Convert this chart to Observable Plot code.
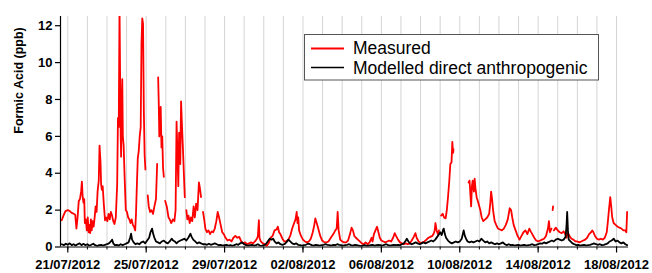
<!DOCTYPE html>
<html>
<head>
<meta charset="utf-8">
<script src="https://cdn.jsdelivr.net/npm/d3@7"></script>
<script src="https://cdn.jsdelivr.net/npm/@observablehq/plot@0.6"></script>
<style>
  html, body { margin: 0; padding: 0; background: #fff; }
  #chart { width: 652px; height: 273px; }
</style>
</head>
<body>
<div id="chart"></div>
<script>
// ---- Data (days since 21/07/2012 00:00 UTC, values in ppb; null = gap) ----
const measuredDays = [
  -0.31,-0.22,-0.12,0,0.1,0.2,0.3,0.38,0.44,0.5,0.56,0.62,0.68,0.72,0.76,0.8,0.84,0.87,0.92,0.97,
  1.02,1.06,1.1,1.14,1.18,1.22,1.27,1.32,1.37,1.42,1.47,1.52,1.58,1.62,1.67,1.7,1.74,1.78,1.84,1.9,
  1.96,2.02,2.08,2.14,2.2,2.26,2.32,2.38,2.45,2.52,2.56,2.6,2.64,2.67,2.7,2.72,2.75,2.78,2.81,2.85,
  2.9,2.96,3.02,3.08,3.14,3.2,3.26,3.32,3.38,3.44,3.48,3.52,3.57,3.62,3.67,3.72,3.76,3.8,3.84,3.88,
  3.92,3.96,4.0,4.08,4.13,4.2,4.27,4.35,4.42,4.5,4.56,4.58,4.61,4.64,4.67,4.7,4.74,4.78,4.82,4.86,
  4.9,4.93,4.97,5.05,5.14,5.2,5.28,5.36,5.44,5.5,5.55,5.6,5.64,5.68,5.74,5.78,5.83,5.88,5.94,5.97,
  6.0,6.05,6.1,6.16,6.22,6.28,6.35,6.42,6.48,6.55,6.62,6.69,6.74,6.8,6.84,6.9,6.96,7.02,7.1,7.18,
  7.26,7.34,7.42,7.5,7.58,7.65,7.72,7.8,7.88,7.96,8.05,8.15,8.25,8.35,8.45,8.55,8.65,8.75,8.85,8.95,
  9.05,9.15,9.25,9.35,9.45,9.55,9.65,9.7,9.75,9.78,9.85,9.95,10.05,10.15,10.25,10.35,10.45,10.55,10.65,10.72,
  10.78,10.85,10.95,11.05,11.15,11.25,11.35,11.45,11.55,11.62,11.68,11.72,11.76,11.8,11.9,12.0,12.1,12.2,12.3,12.4,
  12.5,12.58,12.63,12.7,12.78,12.88,12.98,13.1,13.2,13.3,13.42,13.55,13.65,13.72,13.77,13.82,13.9,14.0,14.1,14.2,
  14.3,14.4,14.48,14.55,14.62,14.7,14.8,14.9,15.0,15.1,15.2,15.3,15.4,15.5,15.55,15.62,15.7,15.78,15.85,15.92,
  16.0,16.1,16.2,16.3,16.4,16.5,16.6,16.68,16.75,16.85,16.95,17.05,17.15,17.25,17.35,17.45,17.55,17.65,17.74,17.8,
  17.9,18.0,18.1,18.2,18.3,18.4,18.5,18.6,18.68,18.72,18.76,18.82,18.88,18.94,18.98,19.05,19.13,19.2,19.28,19.34,
  19.4,19.46,19.52,19.58,19.62,19.66,19.68,19.72,20.45,20.5,20.54,20.58,20.62,20.66,20.72,20.76,20.8,20.86,20.92,21.0,
  21.05,21.12,21.2,21.3,21.4,21.5,21.56,21.6,21.65,21.7,21.78,21.86,21.95,22.05,22.15,22.25,22.35,22.45,22.55,22.62,
  22.68,22.75,22.85,22.95,23.05,23.15,23.25,23.35,23.45,23.55,23.62,23.7,23.8,23.9,24.0,24.1,24.2,24.3,24.4,24.5,
  24.55,24.6,24.68,24.72,24.74,24.76,24.78,24.8,24.9,25.0,25.1,25.2,25.3,25.38,25.45,25.5,25.6,25.7,25.8,25.9,
  26.0,26.1,26.2,26.3,26.4,26.5,26.6,26.7,26.76,26.82,26.9,27.0,27.1,27.2,27.3,27.4,27.5,27.56,27.62,27.68,
  27.72,27.78,27.85,27.95,28.05,28.15,28.25,28.35,28.45,28.5,28.54
];
const measuredPpb = [
  1.45,1.7,1.95,2.0,1.95,1.85,1.8,1.75,1.0,1.6,2.5,2.6,3.0,3.55,2.7,2.4,2.6,1.3,1.5,0.9,
  1.6,0.8,1.2,0.75,1.5,0.9,1.4,1.1,1.6,2.2,1.9,3.0,3.6,5.5,4.6,3.4,3.1,3.3,2.3,1.45,
  1.6,1.4,1.8,1.5,1.9,1.7,1.4,1.25,1.6,3.4,7.0,6.5,13,9.2,6.0,4.9,7.4,9.1,6.0,5.5,
  3.8,2.0,1.9,1.6,1.5,1.3,1.5,1.2,1.1,0.9,1.8,3.2,4.8,5.2,6.0,6.5,11.0,12.4,12.1,7.4,
  5.0,4.2,null,2.8,2.2,1.9,2.0,1.8,2.2,2.6,4.5,null,9.2,7.9,6.0,6.5,7.6,5.4,6.0,4.3,
  3.8,null,2.5,2.2,1.6,1.5,1.3,1.5,1.4,2.0,6.8,4.9,3.3,6.2,4.5,7.9,6.5,5.2,3.5,2.7,
  null,2.0,1.5,1.7,1.3,1.6,1.4,2.2,1.6,2.35,2.0,3.5,3.2,2.7,null,1.9,1.5,1.0,0.8,0.9,
  0.7,0.85,0.8,1.0,1.4,1.9,1.6,1.2,0.8,0.7,0.5,0.35,0.4,0.3,0.5,0.6,0.5,0.55,0.3,0.2,
  0.25,0.15,0.2,0.25,0.2,0.3,0.45,0.6,1.45,0.5,0.3,0.2,0.15,0.05,0.2,0.5,0.6,0.9,0.95,1.1,
  0.8,0.7,0.45,0.3,0.3,0.4,0.6,1.0,1.3,1.5,1.9,1.3,1.6,0.9,0.6,0.4,0.3,0.25,0.3,0.45,
  0.8,1.2,1.55,1.3,1.0,0.6,0.35,0.25,0.25,0.3,0.5,0.7,0.9,1.0,1.9,0.9,0.4,0.3,0.25,0.25,
  0.35,0.7,1.05,0.9,0.6,0.5,0.4,0.3,0.2,0.15,0.25,0.15,0.25,0.5,0.3,0.7,0.9,1.1,0.8,0.5,
  0.35,0.3,0.25,0.3,0.35,0.3,0.5,0.75,0.6,0.4,0.25,0.2,0.15,0.2,0.15,0.2,0.35,0.55,0.75,0.5,
  0.3,0.2,0.25,0.3,0.4,0.5,0.55,0.6,0.75,0.9,1.3,0.9,0.7,0.9,null,1.7,1.8,1.6,1.55,2.0,
  2.7,3.5,4.5,4.6,5.7,5.1,5.3,null,3.5,3.6,2.9,2.2,3.3,3.6,3.0,3.7,3.2,2.7,2.5,2.2,
  2.0,1.6,1.4,1.5,1.6,1.8,2.4,3.0,2.6,2.0,1.4,1.2,1.0,0.95,0.9,1.0,1.2,1.5,2.1,2.0,
  1.6,1.2,0.9,0.6,0.4,0.6,0.8,0.9,0.7,1.0,0.85,0.7,0.5,0.35,0.3,0.35,0.4,0.45,0.6,1.0,
  1.4,0.8,1.0,null,2.0,2.2,null,0.9,1.05,0.9,0.8,0.75,0.85,0.7,0.5,0.8,0.6,0.45,0.4,0.3,
  0.3,0.25,0.3,0.35,0.4,0.5,0.7,0.8,0.9,0.8,0.6,0.45,0.4,0.45,0.4,0.5,0.8,1.4,2.1,2.7,
  2.3,1.6,1.3,1.2,1.1,1.05,1.0,0.9,0.9,0.8,1.9
];
const modelledDays = [
  -0.3,-0.2,-0.1,0,0.1,0.2,0.3,0.4,0.5,0.6,0.7,0.8,0.9,1.0,1.1,1.2,1.3,1.4,1.5,1.6,
  1.7,1.8,1.9,2.0,2.1,2.2,2.26,2.32,2.4,2.5,2.6,2.7,2.8,2.9,3.0,3.1,3.18,3.23,3.28,3.36,
  3.45,3.55,3.65,3.75,3.85,3.95,4.05,4.15,4.22,4.3,4.36,4.42,4.5,4.6,4.7,4.8,4.9,5.0,5.1,5.2,
  5.3,5.38,5.46,5.55,5.65,5.75,5.85,5.95,6.05,6.15,6.26,6.32,6.4,6.5,6.6,6.7,6.8,6.9,7.0,7.1,
  7.2,7.3,7.4,7.5,7.6,7.7,7.8,7.9,8.0,8.1,8.2,8.3,8.4,8.5,8.6,8.7,8.8,8.9,9.0,9.1,
  9.2,9.3,9.4,9.5,9.6,9.7,9.8,9.9,10.0,10.1,10.2,10.3,10.4,10.48,10.55,10.65,10.75,10.85,10.95,11.05,
  11.15,11.26,11.35,11.45,11.55,11.65,11.75,11.85,11.95,12.05,12.15,12.25,12.35,12.45,12.55,12.65,12.75,12.85,12.95,13.05,
  13.15,13.25,13.35,13.45,13.55,13.65,13.75,13.85,13.95,14.05,14.15,14.25,14.35,14.45,14.55,14.65,14.75,14.85,14.95,15.05,
  15.15,15.25,15.35,15.45,15.55,15.65,15.75,15.85,15.95,16.05,16.15,16.25,16.35,16.45,16.55,16.65,16.75,16.85,16.95,17.05,
  17.15,17.25,17.3,17.38,17.45,17.55,17.65,17.75,17.85,17.95,18.05,18.15,18.25,18.35,18.45,18.55,18.65,18.75,18.85,18.95,
  19.0,19.08,19.14,19.18,19.24,19.3,19.4,19.5,19.6,19.7,19.8,19.9,20.0,20.1,20.2,20.26,20.32,20.4,20.5,20.6,
  20.7,20.8,20.9,21.0,21.1,21.2,21.3,21.4,21.5,21.6,21.7,21.8,21.9,22.0,22.1,22.2,22.3,22.4,22.5,22.6,
  22.7,22.8,22.9,23.0,23.1,23.2,23.3,23.4,23.5,23.6,23.7,23.8,23.9,24.0,24.1,24.2,24.3,24.4,24.5,24.6,
  24.7,24.8,24.9,25.0,25.1,25.2,25.3,25.4,25.45,25.48,25.52,25.56,25.65,25.75,25.85,25.95,26.05,26.15,26.25,26.35,
  26.45,26.55,26.65,26.75,26.85,26.95,27.05,27.15,27.25,27.35,27.45,27.55,27.65,27.75,27.86,27.95,28.05,28.15,28.25,28.35,
  28.45,28.54
];
const modelledPpb = [
  0.15,0.1,0.18,0.12,0.2,0.1,0.15,0.08,0.15,0.2,0.1,0.17,0.1,0.15,0.07,0.12,0.18,0.1,0.05,0.1,
  0.12,0.08,0.12,0.15,0.2,0.3,0.4,0.2,0.1,0.12,0.08,0.15,0.1,0.15,0.2,0.25,0.5,0.72,0.4,0.25,
  0.15,0.2,0.15,0.25,0.3,0.2,0.35,0.5,0.8,1.0,0.7,0.5,0.3,0.25,0.2,0.3,0.35,0.25,0.2,0.3,
  0.45,0.35,0.3,0.2,0.3,0.35,0.4,0.45,0.35,0.5,0.72,0.55,0.4,0.3,0.2,0.25,0.2,0.15,0.15,0.12,
  0.18,0.12,0.15,0.2,0.15,0.1,0.12,0.08,0.1,0.12,0.08,0.1,0.06,0.1,0.15,0.12,0.2,0.25,0.15,0.1,
  0.08,0.1,0.12,0.08,0.1,0.15,0.08,0.06,0.1,0.15,0.3,0.45,0.4,0.45,0.3,0.2,0.25,0.15,0.12,0.15,
  0.25,0.4,0.3,0.2,0.15,0.2,0.12,0.1,0.08,0.1,0.12,0.18,0.15,0.1,0.08,0.12,0.1,0.08,0.1,0.12,
  0.15,0.12,0.1,0.08,0.12,0.1,0.15,0.12,0.1,0.08,0.1,0.12,0.15,0.1,0.08,0.12,0.1,0.08,0.05,0.08,
  0.1,0.06,0.08,0.1,0.12,0.08,0.1,0.12,0.1,0.08,0.12,0.15,0.1,0.08,0.1,0.12,0.1,0.12,0.1,0.15,
  0.2,0.35,0.45,0.3,0.2,0.15,0.2,0.25,0.2,0.15,0.2,0.25,0.2,0.25,0.3,0.35,0.3,0.4,0.55,0.7,
  0.8,0.65,0.9,1.0,0.7,0.5,0.35,0.25,0.2,0.25,0.3,0.25,0.3,0.45,0.9,0.6,0.45,0.3,0.25,0.3,
  0.25,0.3,0.35,0.3,0.45,0.35,0.25,0.3,0.2,0.25,0.2,0.15,0.2,0.15,0.2,0.25,0.15,0.1,0.15,0.1,
  0.12,0.08,0.1,0.12,0.08,0.1,0.12,0.08,0.1,0.12,0.15,0.1,0.12,0.15,0.2,0.18,0.25,0.2,0.25,0.3,
  0.35,0.3,0.4,0.45,0.4,0.35,0.4,0.55,1.2,1.9,0.9,0.4,0.3,0.2,0.15,0.1,0.12,0.08,0.1,0.12,
  0.08,0.1,0.12,0.15,0.2,0.15,0.12,0.15,0.1,0.12,0.15,0.2,0.3,0.35,0.45,0.3,0.35,0.25,0.2,0.25,
  0.15,0.1
];
const seriesNames = ["Measured", "Modelled direct anthropogenic"];
const xTickLabels = ["21/07/2012","25/07/2012","29/07/2012","02/08/2012","06/08/2012","10/08/2012","14/08/2012","18/08/2012"];
const yTickValues = [0, 2, 4, 6, 8, 10, 12];
const yLabel = "Formic Acid (ppb)";

// ---- Build ----
const origin = Date.UTC(2012, 6, 21);
const toDate = d => new Date(origin + d * 864e5);
const measured = measuredDays.map((d, i) => ({date: toDate(d), value: measuredPpb[i]}));
const modelled = modelledDays.map((d, i) => ({date: toDate(d), value: modelledPpb[i]}));
const parse = d3.utcParse("%d/%m/%Y");
const majorTicks = xTickLabels.map(parse);
const xStart = toDate(-0.372), xEnd = toDate(28.61);
const dayTicks = d3.utcDay.range(d3.utcDay.ceil(xStart), xEnd);

const colors = ["#ff0000", "#000000"];
const font = "'Liberation Sans', Arial, Helvetica, sans-serif";

const chart = Plot.plot({
  width: 652, height: 273,
  marginLeft: 60, marginRight: 24, marginTop: 16, marginBottom: 26.5,
  x: {type: "utc", domain: [xStart, xEnd]},
  y: {domain: [0, 12.5]},
  style: {fontFamily: font, fontSize: "13px", fontWeight: "bold", color: "#000", background: "#fff", overflow: "visible"},
  marks: [
    Plot.gridX(dayTicks, {stroke: "#d4d4d4", strokeOpacity: 1, strokeWidth: 1}),
    Plot.axisX(dayTicks, {tickSize: 3, tickFormat: () => "", label: null, strokeWidth: 1}),
    Plot.axisX(majorTicks, {tickSize: 6, tickPadding: 7, tickFormat: (d, i) => xTickLabels[i], label: null, strokeWidth: 1.2}),
    Plot.axisY(yTickValues, {tickSize: 5, tickPadding: 3, label: null, strokeWidth: 1.2}),
    Plot.ruleY([0], {stroke: "#000", strokeWidth: 1.2}),
    Plot.ruleX([xStart], {stroke: "#000", strokeWidth: 1.2}),
    Plot.line(measured, {x: "date", y: "value", stroke: colors[0], strokeWidth: 1.8, clip: true}),
    Plot.line(modelled, {x: "date", y: "value", stroke: colors[1], strokeWidth: 1.8, clip: true}),
    Plot.text([yLabel], {frameAnchor: "left", rotate: -90, dx: -42, dy: 2, fontSize: 12.5, fontWeight: "bold", fill: "#000"})
  ]
});
document.getElementById("chart").appendChild(chart);

// ---- Legend (inside plot area, top right) ----
const svg = d3.select(chart);
const lg = svg.append("g").attr("font-family", font).attr("font-weight", "normal").attr("text-anchor", "start");
lg.append("rect").attr("x", 304.5).attr("y", 34.5).attr("width", 294).attr("height", 45.5)
  .attr("fill", "#fff").attr("stroke", "#555").attr("stroke-width", 1);
const rows = [{y: 48.5, base: 54}, {y: 67.5, base: 73.5}];
seriesNames.forEach((name, i) => {
  lg.append("line").attr("x1", 311).attr("x2", 344).attr("y1", rows[i].y).attr("y2", rows[i].y)
    .attr("stroke", colors[i]).attr("stroke-width", i === 0 ? 1.8 : 1.4);
  lg.append("text").attr("x", 353).attr("y", rows[i].base).attr("font-size", 17.5)
    .attr("text-anchor", "start").attr("fill", "#000").text(name);
});
</script>
</body>
</html>
